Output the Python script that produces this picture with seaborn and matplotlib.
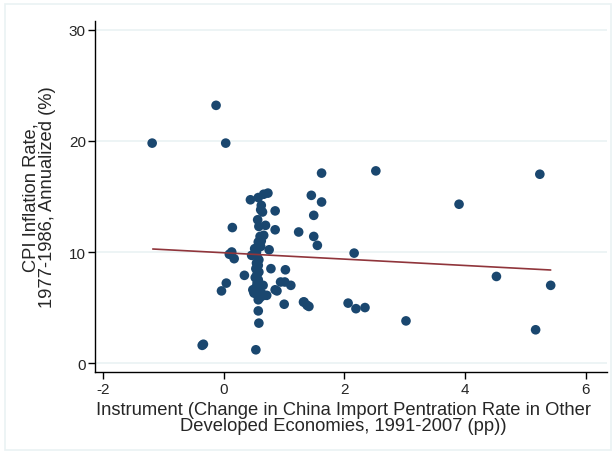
import matplotlib
matplotlib.use("Agg")
import matplotlib.pyplot as plt
import seaborn as sns
import pandas as pd
from matplotlib.patches import Rectangle

# --- data ---
instrument = [
    -1.19, -0.13, 0.03, -0.34, -0.36, 0.53, -0.04, 0.04, 0.14, 0.13, 0.09, 0.17,
    0.34, 0.46, 0.44, 0.57, 0.66, 0.73, 0.62, 0.61, 0.64, 0.85, 0.56, 0.58, 0.69,
    0.85, 1.24, 0.60, 0.66, 0.57, 0.62, 0.61, 0.75, 0.51, 0.54, 0.78, 1.02,
    0.94, 1.01, 1.11, 0.65, 0.67, 0.71, 0.85, 0.88, 0.50, 0.57, 1.00, 1.33, 1.38,
    0.57, 0.58,
    0.55, 0.58, 0.54, 0.57, 0.53, 0.58, 0.55, 0.52, 0.57, 0.55, 0.60, 0.53, 0.58,
    0.50, 0.62, 0.56, 0.48, 0.60,
    1.62, 1.45, 1.62, 1.49, 1.49, 1.55, 2.16, 2.52, 3.90, 5.24, 4.52, 5.42, 5.17,
    3.02, 2.06, 2.19, 2.34, 1.32, 1.41,
]
cpi_inflation = [
    19.8, 23.2, 19.8, 1.7, 1.6, 1.2, 6.5, 7.2, 12.2, 10.0, 9.8, 9.4,
    7.9, 9.7, 14.7, 14.9, 15.2, 15.3, 14.2, 13.8, 13.6, 13.7, 12.9, 12.3, 12.4,
    12.0, 11.8, 11.4, 11.5, 10.9, 11.0, 10.5, 10.2, 10.3, 10.0, 8.5, 8.4,
    7.3, 7.3, 7.0, 7.0, 6.1, 6.1, 6.6, 6.5, 6.4, 5.7, 5.3, 5.5, 5.2,
    4.7, 3.6,
    9.6, 9.3, 9.0, 8.8, 8.5, 8.2, 8.0, 7.7, 7.5, 7.2, 6.9, 6.8, 6.6,
    6.3, 6.3, 6.1, 6.6, 5.9,
    17.1, 15.1, 14.5, 13.3, 11.4, 10.6, 9.9, 17.3, 14.3, 17.0, 7.8, 7.0, 3.0,
    3.8, 5.4, 4.9, 5.0, 5.5, 5.1,
]
fit_x = [-1.18, 5.42]
fit_y = [10.27, 8.38]

xticks = [-2, 0, 2, 4, 6]
yticks = [0, 10, 20, 30]

df = pd.DataFrame({"x": instrument, "y": cpi_inflation})
fit = pd.DataFrame({"x": fit_x, "y": fit_y})

sns.set_theme(style="white")
plt.rcParams["font.family"] = ["Liberation Sans", "DejaVu Sans"]

fig = plt.figure(figsize=(6.16, 4.56), dpi=100)
fig.patch.set_facecolor("white")
fig.add_artist(Rectangle((0.008, 0.012), 0.984, 0.978, transform=fig.transFigure,
                         facecolor="none", edgecolor="#EAF2F3", lw=1.2))
ax = fig.add_axes([0.155, 0.182, 0.83, 0.770])

for t in yticks:
    ax.axhline(t, color="#EAF2F3", lw=1.2, zorder=0)

sns.scatterplot(data=df, x="x", y="y", ax=ax, color="#1A476F", s=48,
                edgecolor="none", zorder=3)
sns.lineplot(data=fit, x="x", y="y", ax=ax, color="#90353B", lw=1.2, zorder=4)

ax.set_xlim(-2.13, 6.35)
ax.set_ylim(-0.8, 30.8)
ax.set_xticks(xticks)
ax.set_xticklabels([str(v) for v in xticks])
ax.set_yticks(yticks)
ax.set_yticklabels([str(v) for v in yticks])

for side in ["top", "right"]:
    ax.spines[side].set_visible(False)
for side in ["left", "bottom"]:
    ax.spines[side].set_color("black")
    ax.spines[side].set_linewidth(1.0)

ax.tick_params(axis="both", which="major", direction="out", length=5, width=1,
               color="black", labelsize=11, pad=2, left=True, bottom=True)

ax.set_xlabel("Instrument (Change in China Import Pentration Rate in Other\n"
              "Developed Economies, 1991-2007 (pp))", fontsize=13.2,
              linespacing=0.92)
ax.set_ylabel("CPI Inflation Rate,\n1977-1986, Annualized (%)", fontsize=13.2,
              linespacing=0.95)
ax.yaxis.set_label_coords(-0.078, 0.5)
ax.xaxis.set_label_coords(0.485, -0.082)
ax.xaxis.label.set_va("top")

fig.savefig("out.png", dpi=100, facecolor="white")
